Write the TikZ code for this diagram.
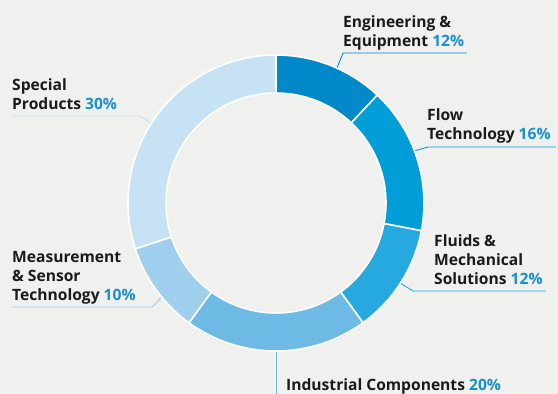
\documentclass[tikz,border=0pt]{standalone}
\usepackage{fontspec}
\setmainfont{Open Sans}
\usetikzlibrary{calc, positioning}
\definecolor{bgc}{HTML}{F0F0EE}
\definecolor{txtc}{HTML}{1A1A1A}
\definecolor{pctc}{HTML}{1B8FD0}
\definecolor{engc}{HTML}{0088C9}
\definecolor{flowc}{HTML}{009DD6}
\definecolor{fluidc}{HTML}{25A9DF}
\definecolor{indc}{HTML}{6DBBE5}
\definecolor{measc}{HTML}{A0CFEE}
\definecolor{specc}{HTML}{C6E2F4}
\newcommand{\pct}[1]{\textcolor{pctc}{#1}}

\begin{document}
\begin{tikzpicture}[x=1pt, y=1pt,
            part/.style={draw=white, line width=1.6pt, line join=miter},
            lbl/.style={font=\fontsize{15.6}{19}\selectfont\bfseries, text=txtc, align=left,
                inner sep=0pt, text depth=0pt, anchor=south west},
            lead/.style={#1, line width=0.9pt}]
        \fill[bgc] (-276,-191) rectangle (282,203);
        \useasboundingbox (-276,-191) rectangle (282,203);
        % ring, clockwise from the top
        \filldraw[part, fill=engc] (90:148) arc[start angle=90, end angle=46.8, radius=148] -- (46.8:110) arc[start angle=46.8, end angle=90, radius=110] -- cycle;
        \filldraw[part, fill=flowc] (46.8:148) arc[start angle=46.8, end angle=-10.8, radius=148] -- (-10.8:110) arc[start angle=-10.8, end angle=46.8, radius=110] -- cycle;
        \filldraw[part, fill=fluidc] (-10.8:148) arc[start angle=-10.8, end angle=-54, radius=148] -- (-54:110) arc[start angle=-54, end angle=-10.8, radius=110] -- cycle;
        \filldraw[part, fill=indc] (-54:148) arc[start angle=-54, end angle=-126, radius=148] -- (-126:110) arc[start angle=-126, end angle=-54, radius=110] -- cycle;
        \filldraw[part, fill=measc] (-126:148) arc[start angle=-126, end angle=-162, radius=148] -- (-162:110) arc[start angle=-162, end angle=-126, radius=110] -- cycle;
        \filldraw[part, fill=specc] (-162:148) arc[start angle=-162, end angle=-270, radius=148] -- (-270:110) arc[start angle=-270, end angle=-162, radius=110] -- cycle;
        % where the leaders leave the ring
        \coordinate (eng) at (65.7:148.8);
        \coordinate (flow) at (20.6:148.8);
        \coordinate (fluid) at (-32.8:148.8);
        \coordinate (ind) at (-90:148.8);
        \coordinate (meas) at (-140.5:148.8);
        \coordinate (spec) at (147.4:148.8);
        % labels
        \node[lbl] (eng-t) at (67,156) {Engineering \&\\Equipment \pct{12\%}};
        \node[lbl] (flow-t) at (151,63) {Flow\\Technology \pct{16\%}};
        \node[lbl] (fluid-t) at (158,-82) {Fluids \&\\Mechanical\\Solutions \pct{12\%}};
        \node[lbl] (ind-t) at (10,-187.5) {Industrial Components \pct{20\%}};
        \node[lbl] (meas-t) at (-264,-98) {Measurement\\\& Sensor\\Technology \pct{10\%}};
        \node[lbl] (spec-t) at (-264,93) {Special\\Products \pct{30\%}};
        % leaders
        \draw[lead=engc] (eng) -- ([yshift=-6pt]eng-t.south west) -- ++(124,0);
        \draw[lead=flowc] (flow) -- ([xshift=1pt, yshift=-7pt]flow-t.south west) -- ++(128,0);
        \draw[lead=fluidc] (fluid) -- ([xshift=-21pt, yshift=-6pt]fluid-t.south west) -- ++(133,0);
        \draw[lead=indc] (ind) -- ++(0,-44);
        \draw[lead=measc] (meas) -- ([xshift=140pt, yshift=-6pt]meas-t.south west) -- ([yshift=-6pt]meas-t.south west);
        \draw[lead=specc] (spec) -- ([xshift=128pt, yshift=-6pt]spec-t.south west) -- ([yshift=-6pt]spec-t.south west);
    \end{tikzpicture}
\end{document}
